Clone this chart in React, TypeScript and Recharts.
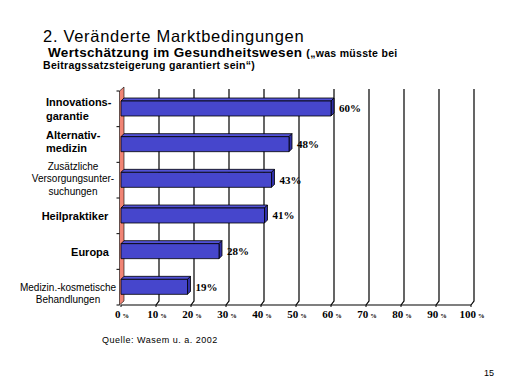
import { BarChart, Bar, XAxis, YAxis, CartesianGrid, LabelList } from "recharts";

const categories = [
  ["Innovations-", "garantie"],
  ["Alternativ-", "medizin"],
  ["Zusätzliche", "Versorgungsunter-", "suchungen"],
  ["Heilpraktiker"],
  ["Europa"],
  ["Medizin.-kosmetische", "Behandlungen"],
];
const values = [60, 48, 43, 41, 28, 19];
const xTicks = [0, 10, 20, 30, 40, 50, 60, 70, 80, 90, 100];

// how each category label is set (bold, anchor, x, line offsets from band centre)
const labelLayout = [
  { bold: true, anchor: "start", x: 46, dy: [-7, 7] },
  { bold: true, anchor: "start", x: 46, dy: [-10, 3] },
  { bold: false, anchor: "middle", x: 73, dy: [-13.5, -1.5, 11] },
  { bold: true, anchor: "middle", x: 75, dy: [0.5] },
  { bold: true, anchor: "middle", x: 90, dy: [0.5] },
  { bold: false, anchor: "middle", x: 68, dy: [0, 12] },
];

const data = categories.map((lines, i) => ({ name: lines.join(" "), value: values[i] }));

const SANS = "'Liberation Sans', Arial, sans-serif";
const SERIF = "'Liberation Serif', 'Times New Roman', serif";
const PLOT_LEFT = 121;
const D = 3;

function Bar3D(props: any) {
  const { x, y, width, height } = props;
  if (width == null) return null;
  return (
    <g stroke="#000" strokeWidth={0.8} strokeLinejoin="round">
      <path d={`M${x},${y} L${x + D},${y - D} L${x + width + D},${y - D} L${x + width},${y} Z`} fill="#5252D6" />
      <path d={`M${x + width},${y} L${x + width + D},${y - D} L${x + width + D},${y + height - D} L${x + width},${y + height} Z`} fill="#3030A8" />
      <rect x={x} y={y} width={width} height={height} fill="#4646CC" />
    </g>
  );
}

function GridLine(props: any) {
  const { x1, y1, y2, key } = props;
  const isWall = Math.abs(x1 - PLOT_LEFT) < 1;
  const n = categories.length;
  return (
    <g key={key}>
      {isWall && (
        <>
          <path
            d={`M${x1 - 1.5},${y1} L${x1 + D},${y1 - 4} L${x1 + D},${y2 - 4} L${x1 - 1.5},${y2} Z`}
            fill="#F08474"
            stroke="#000"
            strokeWidth={0.6}
          />
          {Array.from({ length: n + 1 }, (_, i) => {
            const yy = y1 + ((y2 - y1) * i) / n;
            return <line key={i} x1={x1 - 4.5} x2={x1 - 1.5} y1={yy} y2={yy} stroke="#000" strokeWidth={1} />;
          })}
        </>
      )}
      {!isWall && (
        <path
          d={`M${x1 + D},${y1 - 2} L${x1 + D},${y2 - 4} L${x1},${y2}`}
          fill="none"
          stroke="#000"
          strokeWidth={1.2}
        />
      )}
    </g>
  );
}

function YTick(props: any) {
  const { y, payload } = props;
  const i = payload.index;
  const lay = labelLayout[i];
  const lines = categories[i];
  return (
    <g>
      {lines.map((line, k) => (
        <text
          key={k}
          x={lay.x}
          y={y + lay.dy[k] + (lay.bold ? 4 : 3.5)}
          textAnchor={lay.anchor}
          fontFamily={SANS}
          fontSize={lay.bold ? 11 : 10}
          fontWeight={lay.bold ? "bold" : "normal"}
          fill="#000"
        >
          {line}
        </text>
      ))}
    </g>
  );
}

function XTick(props: any) {
  const { x, y, payload } = props;
  return (
    <text x={x + 1} y={y + 9} textAnchor="middle" fontFamily={SERIF} fontWeight="bold" fontSize={11} fill="#000">
      {payload.value}
      <tspan fontSize={6.5} dx={2}>%</tspan>
    </text>
  );
}

export default function App() {
  return (
    <div style={{ position: "absolute", left: 0, top: 0, width: 512, height: 384, background: "#fff" }}>
      <BarChart
        width={512}
        height={384}
        data={data}
        layout="vertical"
        margin={{ top: 91, right: 41, bottom: 59, left: 0 }}
        barCategoryGap={0}
      >
        <CartesianGrid horizontal={false} vertical={GridLine} />
        <XAxis
          type="number"
          domain={[0, 100]}
          ticks={xTicks}
          interval={0}
          height={20}
          axisLine={{ stroke: "#000", strokeWidth: 1.2 }}
          tickLine={{ stroke: "#000" }}
          tickSize={2}
          tick={<XTick />}
        />
        <YAxis type="category" dataKey="name" width={121} axisLine={false} tickLine={false} tick={<YTick />} interval={0} />
        <Bar dataKey="value" barSize={15} shape={<Bar3D />} isAnimationActive={false}>
          <LabelList
            dataKey="value"
            position="right"
            offset={8}
            formatter={(v: number) => `${v}%`}
            style={{ fontFamily: SERIF, fontWeight: "bold", fontSize: 11, fill: "#000" }}
          />
        </Bar>
      </BarChart>
      <svg width={512} height={384} style={{ position: "absolute", left: 0, top: 0, pointerEvents: "none" }}>
        <text x={43} y={42} fontFamily={SANS} fontSize={16.5} letterSpacing={0.7} fill="#000">
          2. Veränderte Marktbedingungen
        </text>
        <text x={48} y={57} fontFamily={SANS} fontSize={13.5} fontWeight="bold" letterSpacing={0.35} fill="#000">
          Wertschätzung im Gesundheitswesen
          <tspan fontSize={10.5} letterSpacing={0.3} dx={4}>(„was müsste bei</tspan>
        </text>
        <text x={43} y={69} fontFamily={SANS} fontSize={10.5} fontWeight="bold" letterSpacing={0.3} fill="#000">
          Beitragssatzsteigerung garantiert sein“)
        </text>
        <text x={102} y={343} fontFamily={SANS} fontSize={9} letterSpacing={0.5} fill="#000">
          Quelle: Wasem u. a. 2002
        </text>
        <text x={484} y={376} fontFamily={SANS} fontSize={9} fill="#000">
          15
        </text>
      </svg>
    </div>
  );
}
